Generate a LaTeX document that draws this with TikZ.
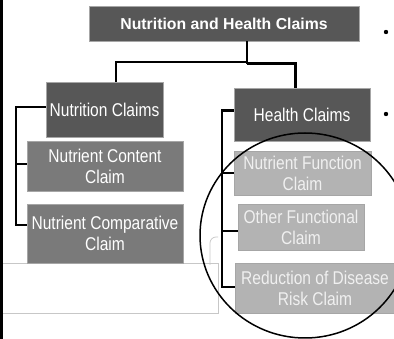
\documentclass[tikz,border=0pt]{standalone}
\usepackage{fontspec}
\setmainfont{Liberation Sans}
\newfontfamily\narrowsans[FakeStretch=0.84]{Liberation Sans}
\usetikzlibrary{calc}
\definecolor{darkbox}{HTML}{575757}
\definecolor{midbox}{HTML}{7A7A7A}
\definecolor{lightbox}{HTML}{B3B3B3}
\begin{document}
\begin{tikzpicture}[x=1pt,y=-1pt,
  box/.style={draw=black!35, line width=0.6pt, inner sep=0pt, align=center, text=white,
    font=\narrowsans\fontsize{18.5}{21}\selectfont},
  dark/.style={box, fill=darkbox},
  mid/.style={box, fill=midbox},
  light/.style={box, fill=lightbox, text=white!94!black},
  conn/.style={line width=2.7pt, black},
  faint/.style={draw=black!22, line width=0.7pt}]
\useasboundingbox (0,0) rectangle (394,339);
\fill[white] (0,0) rectangle (394,339);
% faint background shapes
\draw[faint] (0,263) rectangle (218,313);
\draw[faint, rounded corners=6pt] (210,265) |- (218,237);
% left border
\draw[line width=2.6pt] (1.3,0) -- (1.3,339);
% boxes
\node[dark, minimum width=270pt, minimum height=35pt, font=\bfseries\fontsize{15.8}{21}\selectfont] (top) at (224,23.5) {Nutrition and Health Claims};
\node[dark, minimum width=117pt, minimum height=55pt] (nc) at (104.5,109.5) {Nutrition Claims};
\node[dark, minimum width=136pt, minimum height=53pt] (hc) at (302,114.5) {Health Claims};
\node[mid, minimum width=156pt, minimum height=50pt] (ncc) at (105,166) {Nutrient Content\\Claim};
\node[mid, minimum width=156pt, minimum height=59pt] (ncomp) at (105,233.5) {Nutrient Comparative\\Claim};
\node[light, minimum width=137pt, minimum height=44pt] (nfc) at (302.5,173) {Nutrient Function\\Claim};
\node[light, minimum width=126pt, minimum height=46pt] (ofc) at (301,227) {Other Functional\\Claim};
\node[light, minimum width=160pt, minimum height=50pt] (rdr) at (315,288) {Reduction of Disease\\Risk Claim};
% top connectors
\coordinate (jl) at (247,62);
\coordinate (jr) at (247,63.7);
\draw[conn] (top.south -| jl) -- (jr);
\draw[conn] (jl) -| ($(nc.north)+(11.5,0)$);
\draw[conn] (jr) -| ($(hc.north)+(-6.5,0)$);
% left bracket
\draw[conn] ($(nc.west)+(0,-2.5)$) -| (16,225) -- ($(ncomp.west)+(0,-8.5)$);
\draw[conn] (16,164) -- ($(ncc.west)+(0,-2)$);
% right bracket
\draw[conn] ($(hc.west)+(0,-4)$) -| (222,287) -- ($(rdr.west)+(0,-1)$);
\draw[conn] (222,173) -- (nfc.west);
\draw[conn] (222,231) -- ($(ofc.west)+(0,4)$);
% circle
\draw[line width=1.5pt] (305,235.5) ellipse [x radius=105, y radius=102.5];
% bullets
\fill (386,32) circle (2.2);
\fill (386,114) circle (2.2);
\end{tikzpicture}
\end{document}
